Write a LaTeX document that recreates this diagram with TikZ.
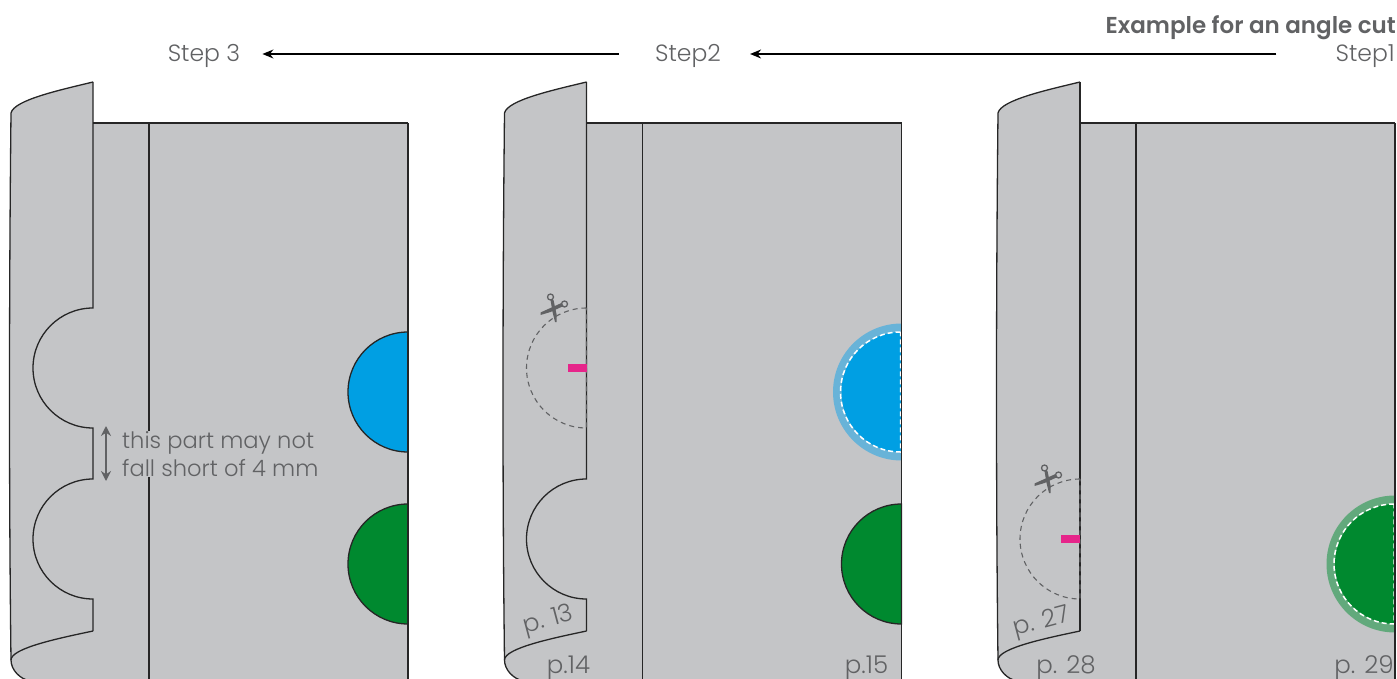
\documentclass[tikz,border=0pt]{standalone}
\usepackage{fontspec}
\setmainfont{Poppins Light}[BoldFont={Poppins SemiBold}]
\usepackage{xcolor}
\usetikzlibrary{positioning,arrows.meta}
\definecolor{sheetgray}{HTML}{C4C5C7}
\definecolor{textgray}{HTML}{616264}
\definecolor{dotblue}{HTML}{009FE3}
\definecolor{haloblue}{HTML}{68B3D8}
\definecolor{dotgreen}{HTML}{00892F}
\definecolor{halogreen}{HTML}{62A97C}
\definecolor{markpink}{HTML}{E6258A}
\newcommand{\sheetbase}{%
  \fill[sheetgray] (11,113) .. controls (14,100) and (60,90) .. (93,82) -- (93,123)
    -- (408,123) -- (408,690) -- (30,690) -- (30,680)
    .. controls (20,679) and (11,670) .. (11,660) .. controls (9,500) and (9,300) .. (11,113) -- cycle;
  \draw[edge] (93,123) -- (408,123);
  \draw[edge] (149,123) -- (149,690);
  \draw[edge] (93,82) .. controls (60,90) and (14,100) .. (11,113)
    .. controls (9,300) and (9,500) .. (11,660)
    .. controls (11,670) and (20,679) .. (30,681);
  \draw[edge] (93,631) .. controls (60,638) and (11,648) .. (11,660);
}
\begin{document}
\begin{tikzpicture}[
  x=1pt, y=-1pt, font=\fontsize{23.5}{28}\selectfont,
  edge/.style={draw=black!85, line width=1.3pt},
  cutline/.style={draw=textgray, line width=1.1pt, dash pattern=on 5pt off 4pt},
  whitecut/.style={draw=white, line width=1.5pt, dash pattern=on 5pt off 3pt},
  lbl/.style={text=textgray, inner sep=0pt},
  pagelbl/.style={lbl, font=\fontsize{24.5}{28}\selectfont},
  arr/.style={-{Stealth[length=11pt,width=9pt]}, line width=1.3pt, black},
  dblarr/.style={{Stealth[length=10pt,width=10pt]}-{Stealth[length=10pt,width=10pt]}, line width=1.6pt, textgray},
  scissors/.pic={
    \fill[textgray] (-3,-9) -- (0,-9) -- (3,5) -- (3,13) -- (1.5,13) -- (-1,3) -- cycle;
    \fill[textgray] (8,-6) -- (10,-3) -- (-3,3) -- (-13,6) -- (-13,3.5) -- cycle;
    \draw[textgray, line width=1.3pt] (-3,-12) circle[radius=3] (11,-5) circle[radius=3];
  }
]
\path[use as bounding box, clip] (0,0) rectangle (1397,679);

% headings
\node[lbl, anchor=east, font=\fontsize{23}{28}\selectfont\bfseries] (title) at (1396,28) {Example for an angle cut};
\node[lbl, anchor=east] (step1) at (1395,56) {Step1};
\node[lbl] (step2) at (688,56) {Step2};
\node[lbl] (step3) at (204,56) {Step 3};
\draw[arr] ([xshift=-59pt,yshift=2pt]step1.west) -- ([xshift=29pt,yshift=2pt]step2.east);
\draw[arr] ([xshift=-36pt,yshift=2pt]step2.west) -- ([xshift=22pt,yshift=2pt]step3.east);

% step 3
\begin{scope}
\sheetbase
\draw[edge, fill=dotblue] (408,332) arc[start angle=-90, end angle=-270, radius=60] -- cycle;
\draw[edge, fill=dotgreen] (408,504) arc[start angle=-90, end angle=-270, radius=60] -- cycle;
\draw[edge] (408,123) -- (408,690);
\draw[edge] (93,82) -- (93,308) arc[start angle=-90, end angle=-270, radius=60] -- (93,479)
  arc[start angle=-90, end angle=-270, radius=60] -- (93,631);
\node[lbl, fill=sheetgray, anchor=west, align=left, font=\fontsize{22.6}{28}\selectfont] (note) at (122,454) {this part may not\\fall short of 4 mm};
\coordinate (gapt) at (106,426);
\coordinate (gapb) at (106,481);
\draw[dblarr] (gapt) -- (gapb);
\end{scope}

% step 2
\begin{scope}[xshift=493.5pt]
\sheetbase
\fill[haloblue] (408,323.5) arc[start angle=-90, end angle=-270, radius=68.5] -- cycle;
\fill[dotblue] (408,332) arc[start angle=-90, end angle=-270, radius=60] -- cycle;
\draw[whitecut] (407,332) arc[start angle=-90, end angle=-270, radius=60] -- cycle;
\draw[edge, fill=dotgreen] (408,504) arc[start angle=-90, end angle=-270, radius=60] -- cycle;
\draw[edge] (408,123) -- (408,690);
\draw[edge] (93,82) -- (93,479) arc[start angle=-90, end angle=-270, radius=60] -- (93,631);
\draw[cutline] (93,308) arc[start angle=-90, end angle=-270, radius=60] -- cycle;
\fill[markpink] (74,364) rectangle (93,372);
\pic at (60,309) {scissors};
\node[pagelbl, rotate=15] (p13) at (55,621) {p. 13};
\node[pagelbl] (p14) at (75,668) {p.14};
\node[pagelbl] (p15) at (373,668) {p.15};
\end{scope}

% step 1
\begin{scope}[xshift=987pt]
\sheetbase
\fill[halogreen] (408,495.5) arc[start angle=-90, end angle=-270, radius=68.5] -- cycle;
\fill[dotgreen] (408,504) arc[start angle=-90, end angle=-270, radius=60] -- cycle;
\draw[whitecut] (407,504) arc[start angle=-90, end angle=-270, radius=60] -- cycle;
\draw[edge] (408,123) -- (408,690);
\draw[edge] (93,82) -- (93,631);
\draw[cutline] (93,479) arc[start angle=-90, end angle=-270, radius=60] -- cycle;
\fill[markpink] (74,535) rectangle (93,543);
\pic at (60.5,480) {scissors};
\node[pagelbl, rotate=15] (p27) at (55,623) {p. 27};
\node[pagelbl] (p28) at (79,668) {p. 28};
\node[pagelbl] (p29) at (377,668) {p. 29};
\end{scope}
\end{tikzpicture}
\end{document}
